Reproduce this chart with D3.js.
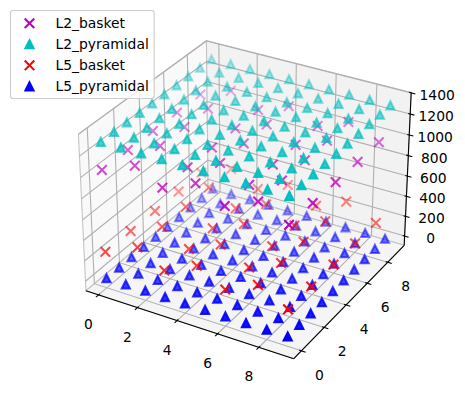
<!DOCTYPE html>
<html>
<head>
<meta charset="utf-8">
<style>
  body { margin: 0; background: #fff; }
  text { font-family: "DejaVu Sans", sans-serif; font-size: 13.89px; fill: #000; }
</style>
<script src="https://cdn.jsdelivr.net/npm/d3@7"></script>
</head>
<body>
<svg id="chart" width="465" height="394"></svg>
<script>
const cellTypes = ['L2_basket', 'L2_pyramidal', 'L5_basket', 'L5_pyramidal'];
const cellColors = ['#bf00bf', '#00bfbf', '#ff0000', '#0000ff'];
const cellMarkers = ['x', '^', 'x', '^'];
const cellHeights = [1046, 1307, 261, 0];

const pyrX = [0, 1, 2, 3, 4, 5, 6, 7, 8, 9];
const pyrY = [0, 1, 2, 3, 4, 5, 6, 7, 8, 9];
const basketX = [0, 0, 0, 0, 0, 3, 3, 3, 3, 3, 6, 6, 6, 6, 6, 9, 9, 9, 9, 9, 1, 1, 1, 1, 1, 4, 4, 4, 4, 4, 7, 7, 7, 7, 7];
const basketY = [0, 2, 4, 6, 8, 0, 2, 4, 6, 8, 0, 2, 4, 6, 8, 0, 2, 4, 6, 8, 1, 3, 5, 7, 9, 1, 3, 5, 7, 9, 1, 3, 5, 7, 9];

const xTicks = [0, 2, 4, 6, 8];
const yTicks = [0, 2, 4, 6, 8];
const zTicks = [0, 200, 400, 600, 800, 1000, 1200, 1400];

const xLim = [-0.656, 9.656];
const yLim = [-0.656, 9.656];
const zLim = [-95.4, 1403];

// matplotlib's default 3d camera: elev 30, azim -60, dist 10
const dist = 10;
const elev = 30 * Math.PI / 180;
const azim = -60 * Math.PI / 180;
const boxX = 1.1905, boxY = 1.1905, boxZ = 0.8929;

const xScale = d3.scaleLinear().domain(xLim).range([-boxX / 2, boxX / 2]);
const yScale = d3.scaleLinear().domain(yLim).range([-boxY / 2, boxY / 2]);
const zScale = d3.scaleLinear().domain(zLim).range([-boxZ / 2, boxZ / 2]);
const screenX = d3.scaleLinear().domain([-0.1, 0.1]).range([48, 448]);
const screenY = d3.scaleLinear().domain([-0.1, 0.1]).range([392, -8]);

const w = [Math.cos(elev) * Math.cos(azim), Math.cos(elev) * Math.sin(azim), Math.sin(elev)];
const u = [-w[1] / Math.cos(elev), w[0] / Math.cos(elev), 0];
const v = [w[1] * u[2] - w[2] * u[1], w[2] * u[0] - w[0] * u[2], w[0] * u[1] - w[1] * u[0]];
const dot = (a, b) => a[0] * b[0] + a[1] * b[1] + a[2] * b[2];

function project(x, y, z) {
  let p = [xScale(x), yScale(y), zScale(z)];
  let zv = dot(w, p) - dist;
  return {
    x: screenX(dot(u, p) / -zv),
    y: screenY(dot(v, p) / -zv),
    depth: 10 / zv
  };
}

const svg = d3.select('#chart');
const lineGen = d3.line().x((d) => d.x).y((d) => d.y);
const pathOf = (pts) => lineGen(pts.map((d) => project(d[0], d[1], d[2])));

const x0 = xLim[0], x1 = xLim[1], y0 = yLim[0], y1 = yLim[1], z0 = zLim[0], z1 = zLim[1];

// panes
const panes = [
  {fill: '#f9f9f9', pts: [[x0, y0, z0], [x0, y1, z0], [x0, y1, z1], [x0, y0, z1]]},
  {fill: '#f2f2f2', pts: [[x0, y1, z0], [x1, y1, z0], [x1, y1, z1], [x0, y1, z1]]},
  {fill: '#f5f5f5', pts: [[x0, y0, z0], [x1, y0, z0], [x1, y1, z0], [x0, y1, z0]]}
];
svg.append('g').selectAll('path')
  .data(panes).enter()
  .append('path')
  .attr('d', (d) => pathOf(d.pts) + 'Z')
  .attr('fill', (d) => d.fill)
  .attr('stroke', '#c4c4c4')
  .attr('stroke-width', 1.1);

// grid
const gridLines = [
  ...xTicks.map((t) => [[t, y0, z0], [t, y1, z0], [t, y1, z1]]),
  ...yTicks.map((t) => [[x1, t, z0], [x0, t, z0], [x0, t, z1]]),
  ...zTicks.map((t) => [[x0, y0, t], [x0, y1, t], [x1, y1, t]])
];
svg.append('g').selectAll('path')
  .data(gridLines).enter()
  .append('path')
  .attr('d', pathOf)
  .attr('fill', 'none')
  .attr('stroke', '#b0b0b0')
  .attr('stroke-width', 1.1);

// axis lines and ticks
const axisLines = [
  [[x0, y0, z0], [x1, y0, z0]],
  [[x1, y0, z0], [x1, y1, z0]],
  [[x1, y1, z0], [x1, y1, z1]]
];
const tickLines = [
  ...xTicks.map((t) => [[t, y0 - 0.2, z0], [t, y0 + 0.1, z0]]),
  ...yTicks.map((t) => [[x1 + 0.2, t, z0], [x1 - 0.1, t, z0]]),
  ...zTicks.map((t) => [[x1 + 0.2, y1, t], [x1 - 0.1, y1, t]])
];
svg.append('g').selectAll('path')
  .data([...axisLines, ...tickLines]).enter()
  .append('path')
  .attr('d', pathOf)
  .attr('fill', 'none')
  .attr('stroke', '#000')
  .attr('stroke-width', 1.1);

// tick labels
const tickLabels = [
  ...xTicks.map((t) => ({t: t, at: project(t, y0, z0), dx: -10, dy: 29})),
  ...yTicks.map((t) => ({t: t, at: project(x1, t, z0), dx: 18, dy: 24})),
  ...zTicks.map((t) => ({t: t, at: project(x1, y1, t), dx: 26, dy: 2}))
];
svg.append('g').selectAll('text')
  .data(tickLabels).enter()
  .append('text')
  .attr('x', (d) => d.at.x + d.dx)
  .attr('y', (d) => d.at.y + d.dy)
  .attr('text-anchor', 'middle')
  .attr('dominant-baseline', 'central')
  .text((d) => d.t);

// markers, s = 34 at 100 dpi
const markerR = Math.sqrt(34) * 100 / 72 / 2;
const markerStroke = 1.5 * 100 / 72;
const markerPath = {
  '^': `M0,${-markerR}L${markerR},${markerR}L${-markerR},${markerR}Z`,
  'x': `M${-markerR},${-markerR}L${markerR},${markerR}M${-markerR},${markerR}L${markerR},${-markerR}`
};

function drawMarker(sel, i) {
  sel.attr('d', markerPath[cellMarkers[i]])
    .attr('fill', cellMarkers[i] === '^' ? cellColors[i] : 'none')
    .attr('stroke', cellColors[i])
    .attr('stroke-width', markerStroke)
    .attr('stroke-linecap', 'square')
    .attr('stroke-linejoin', 'miter');
}

// drawn bottom layer first, like the picture
[3, 2, 0, 1].forEach((i) => {
  let cells = cellMarkers[i] === '^'
    ? d3.cross(pyrX, pyrY)
    : basketX.map((d, k) => [d, basketY[k]]);
  let pts = cells.map((d) => project(d[0], d[1], cellHeights[i]));
  let shade = d3.scaleLinear().domain(d3.extent(pts, (d) => d.depth)).range([1, 0.3]);
  pts.sort((a, b) => d3.descending(a.depth, b.depth));
  svg.append('g').selectAll('path')
    .data(pts).enter()
    .append('path')
    .call(drawMarker, i)
    .attr('transform', (d) => `translate(${d.x},${d.y})`)
    .attr('fill-opacity', (d) => shade(d.depth))
    .attr('stroke-opacity', (d) => shade(d.depth));
});

// legend
const legendY = d3.scalePoint().domain(cellTypes).range([23.2, 86.4]);
const legend = svg.append('g');
legend.append('rect')
  .attr('x', 10.5).attr('y', 10.5)
  .attr('width', 143.7).attr('height', 88)
  .attr('rx', 2.8)
  .attr('fill', '#fff').attr('fill-opacity', 0.8)
  .attr('stroke', '#ccc').attr('stroke-width', 1.1);
cellTypes.forEach((name, i) => {
  legend.append('path')
    .call(drawMarker, i)
    .attr('transform', `translate(29.5,${legendY(name)})`);
  legend.append('text')
    .attr('x', 55.5)
    .attr('y', legendY(name) + 4.7)
    .text(name);
});
</script>
</body>
</html>
